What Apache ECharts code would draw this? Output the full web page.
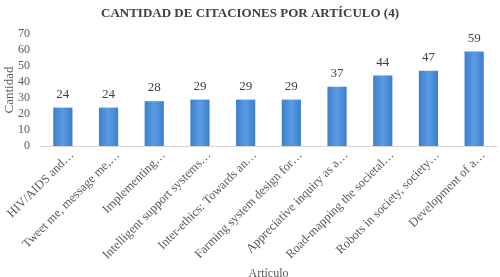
<!DOCTYPE html>
<html><head><meta charset="utf-8">
<script src="https://cdn.jsdelivr.net/npm/echarts@6/dist/echarts.min.js"></script>
<style>html,body{margin:0;padding:0;background:#fff}#c{width:500px;height:277px}</style>
</head><body><div id="c"></div>
<script>
const categories = ["HIV/AIDS and…","Tweet me, message me,…","Implementing…","Intelligent support systems…","Inter-ethics: Towards an…","Farming system design for…","Appreciative inquiry as a…","Road-mapping the societal…","Robots in society, society…","Development of a…"];
const values = [24,24,28,29,29,29,37,44,47,59];
const yTicks = {min:0,max:70,interval:10};
const font = "'Liberation Serif','DejaVu Serif',serif";
const chart = echarts.init(document.getElementById('c'));
chart.setOption({
  animation:false,
  title:{text:'CANTIDAD DE CITACIONES POR ARTÍCULO (4)',left:'center',top:2,
    textStyle:{fontFamily:font,fontSize:13,fontWeight:'bold',color:'#404040'}},
  grid:{left:40,right:3,top:34,bottom:131,containLabel:false,outerBoundsMode:'none'},
  xAxis:{type:'category',data:categories,name:'Artículo',nameLocation:'middle',nameGap:122,
    nameMoveOverlap:false,
    nameTextStyle:{fontFamily:font,fontSize:12,color:'#595959'},
    axisLine:{lineStyle:{color:'#d9d9d9'}},axisTick:{show:false},
    axisLabel:{rotate:45,interval:0,margin:-2,
      formatter:function(v){return '{a|' + v + '}';},
      rich:{a:{fontFamily:font,fontSize:12.5,color:'#595959',padding:[26,0,0,0]}}}},
  yAxis:{type:'value',min:yTicks.min,max:yTicks.max,interval:yTicks.interval,
    name:'Cantidad',nameLocation:'middle',nameGap:24,nameRotate:90,nameMoveOverlap:false,
    nameTextStyle:{fontFamily:font,fontSize:13,color:'#595959'},
    splitLine:{show:false},axisLine:{show:false},axisTick:{show:false},
    axisLabel:{fontFamily:font,fontSize:12,color:'#595959',margin:10}},
  series:[{type:'bar',data:values,barWidth:'42%',
    itemStyle:{color:new echarts.graphic.LinearGradient(0,0,1,0,[
      {offset:0,color:'#3b7fcf'},{offset:0.5,color:'#5b9be0'},{offset:1,color:'#3b7fcf'}])},
    label:{show:true,position:'top',distance:7,fontFamily:font,fontSize:13,color:'#404040'}}]
});
</script></body></html>
